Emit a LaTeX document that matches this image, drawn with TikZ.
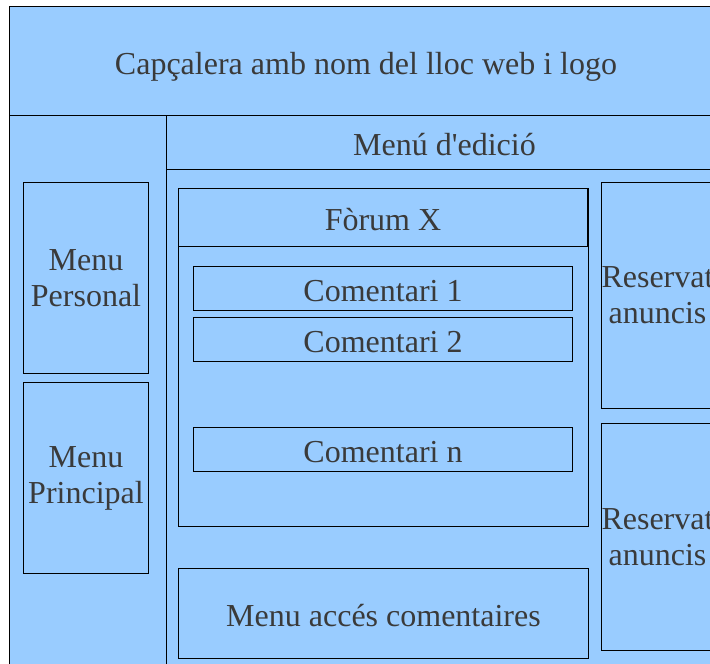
\documentclass[tikz,border=0pt]{standalone}
\usepackage{fontspec}
\setmainfont{Liberation Serif}
\definecolor{paneblue}{HTML}{99CCFF}
\definecolor{inkgray}{HTML}{3A3A3A}
\tikzset{
  pane/.style={draw=black, fill=paneblue, line width=1pt, anchor=north west, inner sep=0pt,
    text=inkgray, font=\fontsize{32}{36}\selectfont, align=center},
  oneline/.style={text height=26pt, text depth=0pt},
}

\begin{document}
\begin{tikzpicture}[x=1pt, y=-1pt]

      \clip (0,0) rectangle (710,664);

      % Page frame and header
      \node[pane, oneline, minimum width=713pt, minimum height=109pt] (header) at (9,6) {Capçalera amb nom del lloc web i logo};
      \node[pane, minimum width=157pt, minimum height=560pt] (leftcol) at (9,115) {};
      \node[pane, minimum width=556pt, minimum height=560pt] (content) at (166,115) {};
      \node[pane, oneline, minimum width=556pt, minimum height=54pt] (edicio) at (166,115) {Menú d\textquotesingle edició};

      % Left menus
      \foreach \i/\txt/\y in {1/Personal/182, 2/Principal/382} {
          \node[pane, minimum width=125pt, minimum height=191pt] (M\i) at (23,\y) {Menu\\\txt};
      }

      % Forum with its comments
      \node[pane, minimum width=410pt, minimum height=338pt] (forum) at (178,188) {};
      \node[pane, oneline, minimum width=409pt, minimum height=58pt] (forumtitle) at (178,188) {Fòrum X};
      \foreach \i/\num/\y in {1/1/266, 2/2/317, 3/n/427} {
          \node[pane, oneline, minimum width=379pt, minimum height=44pt] (C\i) at (193,\y) {Comentari \num};
      }
      \node[pane, oneline, minimum width=410pt, minimum height=90pt] (acces) at (178,568) {Menu accés comentaires};

      % Advertising on the right
      \foreach \i/\y/\h in {1/182/226, 2/423/227} {
          \node[pane, minimum width=110pt, minimum height=\h pt] (R\i) at (601,\y) {Reservat\\anuncis};
      }

\end{tikzpicture}
\end{document}
